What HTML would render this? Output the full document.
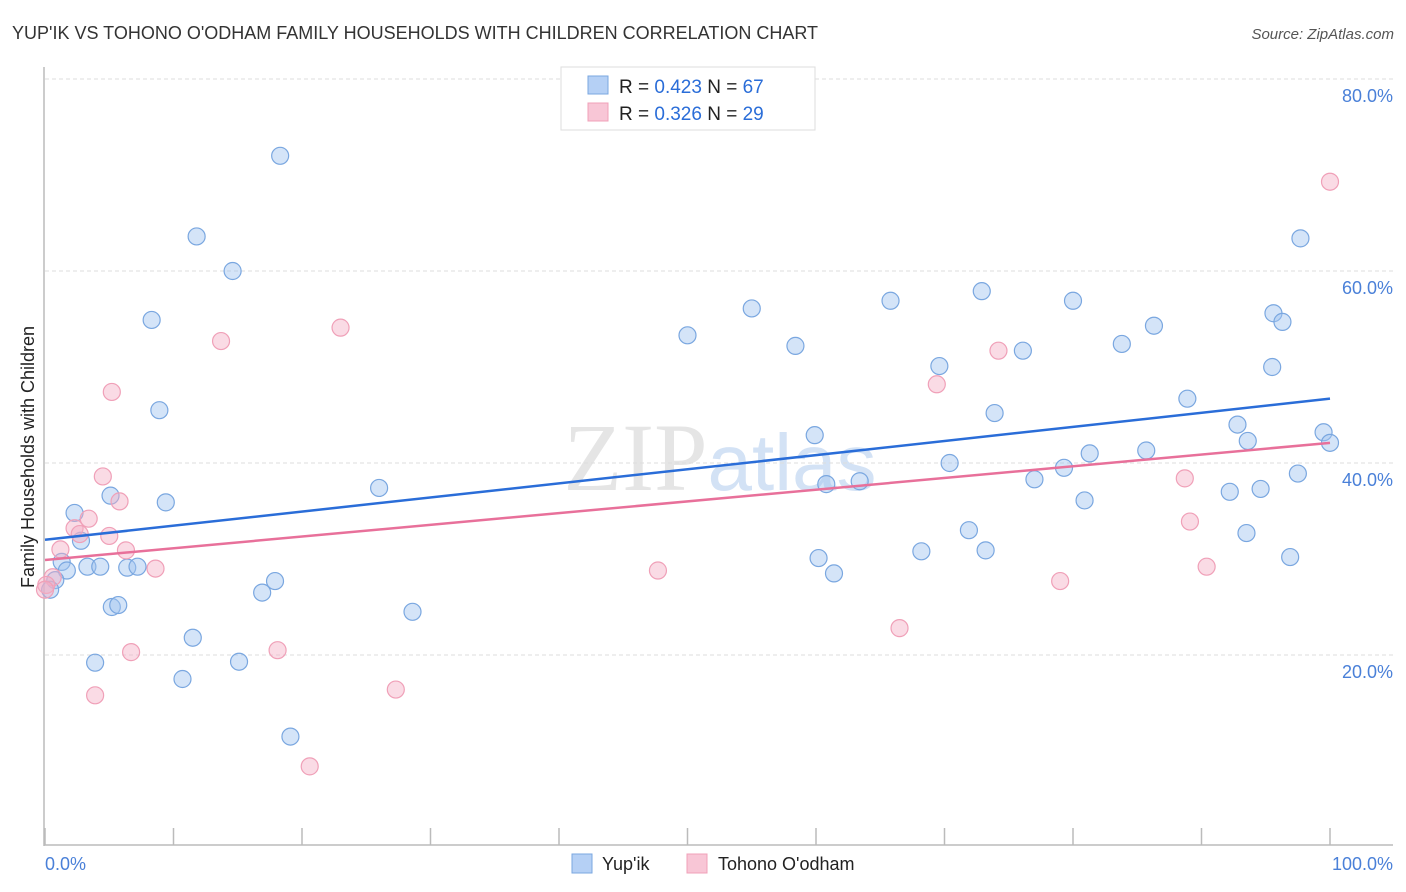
<!DOCTYPE html>
<html><head><meta charset="utf-8"><style>
body{margin:0;background:#fff;font-family:"Liberation Sans",sans-serif;}
svg{display:block}
</style></head><body>
<svg id="chart" width="1406" height="892">
<text x="12" y="39" font-size="18" fill="#333">YUP'IK VS TOHONO O'ODHAM FAMILY HOUSEHOLDS WITH CHILDREN CORRELATION CHART</text>
<text x="1394" y="39" font-size="15" fill="#555" font-style="italic" text-anchor="end">Source: ZipAtlas.com</text>
<text x="720" y="490" font-size="96" fill="#e5e5e5" text-anchor="middle" font-family="Liberation Serif,serif">ZIP<tspan fill="#d3e2f5" font-family="Liberation Sans,sans-serif" font-size="80">atlas</tspan></text>
<g id="grid"></g>
<g id="axes"></g>
<g id="lines"></g>
<g id="points"></g>
<text transform="translate(34,457) rotate(-90)" font-size="18" fill="#222" text-anchor="middle">Family Households with Children</text>
<text x="45" y="870" font-size="18" fill="#4a80d8">0.0%</text>
<text x="1393" y="870" font-size="18" fill="#4a80d8" text-anchor="end">100.0%</text>
<g>
<rect x="561" y="67" width="254" height="63" fill="#fff" stroke="#ddd"/>
<rect x="588" y="76" width="20" height="18" fill="#b5d0f5" stroke="#7aa7e0"/>
<text x="619" y="93" font-size="19" fill="#222">R = <tspan fill="#2a6dd8">0.423</tspan>   N = <tspan fill="#2a6dd8">67</tspan></text>
<rect x="588" y="103" width="20" height="18" fill="#f8c6d6" stroke="#f0a0b8"/>
<text x="619" y="120" font-size="19" fill="#222">R = <tspan fill="#2a6dd8">0.326</tspan>   N = <tspan fill="#2a6dd8">29</tspan></text>
</g>
<g>
<rect x="572" y="854" width="20" height="19" fill="#b5d0f5" stroke="#7aa7e0"/>
<text x="602" y="870" font-size="18" fill="#222">Yup'ik</text>
<rect x="687" y="854" width="20" height="19" fill="#f8c6d6" stroke="#f0a0b8"/>
<text x="718" y="870" font-size="18" fill="#222">Tohono O'odham</text>
</g>
</svg>
<script>
const yTicks=[20,40,60,80];
const yTickLabels=["20.0%","40.0%","60.0%","80.0%"];
const xTicks=[0,10,20,30,40,50,60,70,80,90,100];
const blueX=[18.3,11.8,14.6,8.3,8.9,9.4,5.1,2.3,2.8,1.3,1.7,3.3,4.3,6.4,7.2,5.2,5.7,0.8,0.4,3.9,11.5,10.7,15.1,16.9,17.9,19.1,28.6,26.0,50.0,55.0,58.4,59.9,60.8,60.2,61.4,63.4,65.8,69.6,70.4,68.2,71.9,73.2,72.9,73.9,76.1,77.0,79.3,80.0,81.3,80.9,83.8,85.7,86.3,88.9,92.2,92.8,93.6,94.6,93.5,95.5,95.6,96.3,96.9,97.5,97.7,99.5,100];
const blueY=[72.0,63.6,60.0,54.9,45.5,35.9,36.6,34.8,31.9,29.7,28.8,29.2,29.2,29.1,29.2,25.0,25.2,27.8,26.8,19.2,21.8,17.5,19.3,26.5,27.7,11.5,24.5,37.4,53.3,56.1,52.2,42.9,37.8,30.1,28.5,38.1,56.9,50.1,40.0,30.8,33.0,30.9,57.9,45.2,51.7,38.3,39.5,56.9,41.0,36.1,52.4,41.3,54.3,46.7,37.0,44.0,42.3,37.3,32.7,50.0,55.6,54.7,30.2,38.9,63.4,43.2,42.1];
const pinkX=[100,23.0,13.7,5.2,4.5,5.8,3.4,2.3,2.7,5.0,6.3,1.2,8.6,0.6,0.1,0,6.7,3.9,18.1,20.6,27.3,47.7,66.5,69.4,74.2,79.0,88.7,89.1,90.4];
const pinkY=[69.3,54.1,52.7,47.4,38.6,36.0,34.2,33.2,32.6,32.4,30.9,31.0,29.0,28.1,27.3,26.8,20.3,15.8,20.5,8.4,16.4,28.8,22.8,48.2,51.7,27.7,38.4,33.9,29.2];
const blueTrend=[32.0,46.7];
const pinkTrend=[29.9,42.1];
const NS="http://www.w3.org/2000/svg";
const X0=45,X1=1330,Y0=847,PPU=9.6;
function sx(v){return X0+(X1-X0)*v/100;}
function sy(v){return Y0-v*PPU;}
function mk(tag,attrs,parent){const e=document.createElementNS(NS,tag);for(const k in attrs)e.setAttribute(k,attrs[k]);parent.appendChild(e);return e;}
const grid=document.getElementById('grid');
yTicks.forEach((t,i)=>{
 const l=mk('line',{x1:45,x2:1393,y1:sy(t),y2:sy(t),stroke:'#ddd','stroke-dasharray':'4,3'},grid);
 
 
 const tx=mk('text',{x:1393,y:sy(t)+23,'font-size':18,fill:'#4a80d8','text-anchor':'end'},grid);
 tx.textContent=yTickLabels[i];
 
 
});
const axes=document.getElementById('axes');
const ya=mk('line',{x1:44,x2:44,y1:67,y2:846,stroke:'#bbb','stroke-width':1.5},axes);


const xa=mk('line',{x1:44,x2:1393,y1:845,y2:845,stroke:'#bbb','stroke-width':1.5},axes);


xTicks.forEach(t=>{
 const tk=mk('line',{x1:sx(t),x2:sx(t),y1:828,y2:845,stroke:'#bbb','stroke-width':1.5},axes);
 
 
});
const pts=document.getElementById('points');
function drawSeries(xs,ys,fill,stroke,name){
 xs.forEach((x,i)=>{
  const c=mk('circle',{cx:sx(x),cy:sy(ys[i]),r:8.5,fill:fill,stroke:stroke,'stroke-width':1.2},pts);
  
  
 });
}
drawSeries(blueX,blueY,'rgba(160,195,240,0.45)','#7aa7e0','point-yupik');
drawSeries(pinkX,pinkY,'rgba(245,175,198,0.45)','#f0a0b8','point-tohono');
const lines=document.getElementById('lines');
const bl=mk('line',{x1:sx(0),y1:sy(blueTrend[0]),x2:sx(100),y2:sy(blueTrend[1]),stroke:'#2a6dd8','stroke-width':2.5},pts);


const pl=mk('line',{x1:sx(0),y1:sy(pinkTrend[0]),x2:sx(100),y2:sy(pinkTrend[1]),stroke:'#e8709a','stroke-width':2.5},pts);


</script>
</body></html>
